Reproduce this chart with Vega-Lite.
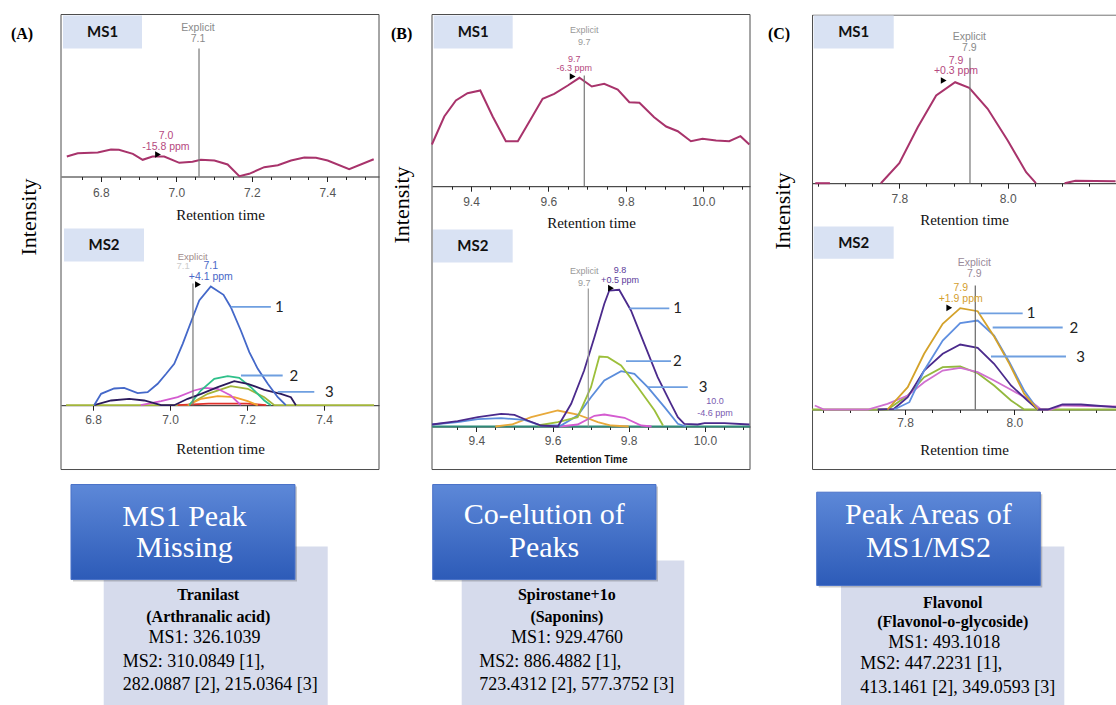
{
"$schema": "https://vega.github.io/schema/vega-lite/v6.json",
"padding": {"left": 10, "top": 13.5, "right": 0, "bottom": 0},
"background": "white",
"config": {
  "view": {"stroke": null},
  "axis": {"grid": false, "domainColor": "#222", "domainWidth": 1, "tickColor": "#222", "tickSize": 5, "labelFont": "Liberation Sans", "labelFontSize": 12, "labelColor": "#555", "titleFont": "Liberation Serif", "titleFontSize": 15, "titleFontWeight": "normal", "titleColor": "#111", "labelFlush": false}
},
"datasets": {
  "A_ms1": [{"rt":6.710,"intensity":20},{"rt":6.739,"intensity":23.3},{"rt":6.792,"intensity":24},{"rt":6.827,"intensity":27},{"rt":6.848,"intensity":26.7},{"rt":6.885,"intensity":22.7},{"rt":6.911,"intensity":16.7},{"rt":6.937,"intensity":20},{"rt":6.968,"intensity":20},{"rt":7.008,"intensity":13.7},{"rt":7.043,"intensity":14.7},{"rt":7.065,"intensity":16.7},{"rt":7.101,"intensity":16},{"rt":7.136,"intensity":12},{"rt":7.167,"intensity":0.3},{"rt":7.193,"intensity":2.7},{"rt":7.233,"intensity":9.3},{"rt":7.269,"intensity":11.3},{"rt":7.304,"intensity":16},{"rt":7.339,"intensity":19},{"rt":7.370,"intensity":18.7},{"rt":7.401,"intensity":16},{"rt":7.458,"intensity":7.3},{"rt":7.523,"intensity":17.3}],
  "A_ms2": [
    {"ion":"A4","rt":6.730,"intensity":0},{"ion":"A4","rt":7.046,"intensity":0},{"ion":"A4","rt":7.098,"intensity":11.4},{"ion":"A4","rt":7.158,"intensity":19},{"ion":"A4","rt":7.202,"intensity":16.4},{"ion":"A4","rt":7.245,"intensity":8},{"ion":"A4","rt":7.271,"intensity":0},{"ion":"A4","rt":7.530,"intensity":0},
    {"ion":"A7","rt":7.02,"intensity":0},{"ion":"A7","rt":7.10,"intensity":1.5},{"ion":"A7","rt":7.20,"intensity":1.5},{"ion":"A7","rt":7.25,"intensity":0},
    {"ion":"A6","rt":7.046,"intensity":0},{"ion":"A6","rt":7.081,"intensity":6.4},{"ion":"A6","rt":7.124,"intensity":9},{"ion":"A6","rt":7.167,"intensity":8},{"ion":"A6","rt":7.202,"intensity":4},{"ion":"A6","rt":7.228,"intensity":0},
    {"ion":"A5","rt":6.924,"intensity":0},{"ion":"A5","rt":6.977,"intensity":4},{"ion":"A5","rt":7.020,"intensity":8},{"ion":"A5","rt":7.063,"intensity":14.7},{"ion":"A5","rt":7.089,"intensity":17.4},{"ion":"A5","rt":7.124,"intensity":16.4},{"ion":"A5","rt":7.158,"intensity":9.7},{"ion":"A5","rt":7.184,"intensity":0},
    {"ion":"A2","rt":7.050,"intensity":0},{"ion":"A2","rt":7.080,"intensity":14.7},{"ion":"A2","rt":7.115,"intensity":26.4},{"ion":"A2","rt":7.150,"intensity":29},{"ion":"A2","rt":7.180,"intensity":27.4},{"ion":"A2","rt":7.210,"intensity":18},{"ion":"A2","rt":7.245,"intensity":4.7},{"ion":"A2","rt":7.262,"intensity":0},
    {"ion":"A3","rt":6.803,"intensity":0},{"ion":"A3","rt":6.847,"intensity":4.7},{"ion":"A3","rt":6.894,"intensity":6.4},{"ion":"A3","rt":6.933,"intensity":4.7},{"ion":"A3","rt":6.977,"intensity":0},{"ion":"A3","rt":7.011,"intensity":0},{"ion":"A3","rt":7.046,"intensity":6.4},{"ion":"A3","rt":7.081,"intensity":11.4},{"ion":"A3","rt":7.124,"intensity":18},{"ion":"A3","rt":7.167,"intensity":24},{"ion":"A3","rt":7.202,"intensity":21.4},{"ion":"A3","rt":7.245,"intensity":15.4},{"ion":"A3","rt":7.288,"intensity":11.4},{"ion":"A3","rt":7.314,"intensity":8},{"ion":"A3","rt":7.327,"intensity":0},
    {"ion":"A1","rt":6.803,"intensity":0},{"ion":"A1","rt":6.821,"intensity":11.4},{"ion":"A1","rt":6.855,"intensity":16.7},{"ion":"A1","rt":6.881,"intensity":17.4},{"ion":"A1","rt":6.916,"intensity":12},{"ion":"A1","rt":6.942,"intensity":13},{"ion":"A1","rt":6.968,"intensity":21.4},{"ion":"A1","rt":6.990,"intensity":31.4},{"ion":"A1","rt":7.011,"intensity":41.4},{"ion":"A1","rt":7.033,"intensity":61.4},{"ion":"A1","rt":7.056,"intensity":84.7},{"ion":"A1","rt":7.076,"intensity":104.7},{"ion":"A1","rt":7.106,"intensity":118.7},{"ion":"A1","rt":7.139,"intensity":110.4},{"ion":"A1","rt":7.158,"intensity":98},{"ion":"A1","rt":7.184,"intensity":74.7},{"ion":"A1","rt":7.206,"intensity":53},{"ion":"A1","rt":7.228,"intensity":36.4},{"ion":"A1","rt":7.254,"intensity":21.4},{"ion":"A1","rt":7.280,"intensity":8},{"ion":"A1","rt":7.301,"intensity":0}
  ],
  "B_ms1": [{"rt":9.299,"intensity":41.7},{"rt":9.331,"intensity":69.7},{"rt":9.361,"intensity":85.7},{"rt":9.391,"intensity":93},{"rt":9.424,"intensity":95.7},{"rt":9.456,"intensity":69.7},{"rt":9.490,"intensity":45},{"rt":9.521,"intensity":45},{"rt":9.555,"intensity":67.4},{"rt":9.585,"intensity":87.4},{"rt":9.615,"intensity":92.4},{"rt":9.650,"intensity":100.7},{"rt":9.680,"intensity":108.4},{"rt":9.712,"intensity":99.7},{"rt":9.744,"intensity":102.4},{"rt":9.779,"intensity":96.7},{"rt":9.809,"intensity":84},{"rt":9.835,"intensity":83.4},{"rt":9.873,"intensity":69},{"rt":9.904,"intensity":59.7},{"rt":9.934,"intensity":55},{"rt":9.968,"intensity":45},{"rt":9.998,"intensity":47.4},{"rt":10.033,"intensity":45.7},{"rt":10.067,"intensity":45},{"rt":10.096,"intensity":50},{"rt":10.119,"intensity":41.7}],
  "B_ms2": [
    {"ion":"B6","rt":9.284,"intensity":0},{"ion":"B6","rt":10.118,"intensity":0},
    {"ion":"B4","rt":9.45,"intensity":0},{"ion":"B4","rt":9.493,"intensity":2},{"ion":"B4","rt":9.544,"intensity":9.3},{"ion":"B4","rt":9.614,"intensity":16},{"ion":"B4","rt":9.666,"intensity":12},{"ion":"B4","rt":9.719,"intensity":4.3},{"ion":"B4","rt":9.754,"intensity":1},{"ion":"B4","rt":9.80,"intensity":0},
    {"ion":"B5","rt":9.62,"intensity":0},{"ion":"B5","rt":9.666,"intensity":2},{"ion":"B5","rt":9.710,"intensity":10.7},{"ion":"B5","rt":9.736,"intensity":12},{"ion":"B5","rt":9.789,"intensity":8.7},{"ion":"B5","rt":9.833,"intensity":1},{"ion":"B5","rt":9.86,"intensity":0},
    {"ion":"B3","rt":9.284,"intensity":2},{"ion":"B3","rt":9.351,"intensity":4.3},{"ion":"B3","rt":9.404,"intensity":7.3},{"ion":"B3","rt":9.465,"intensity":8.3},{"ion":"B3","rt":9.526,"intensity":6.7},{"ion":"B3","rt":9.570,"intensity":1},{"ion":"B3","rt":9.622,"intensity":1},{"ion":"B3","rt":9.666,"intensity":11},{"ion":"B3","rt":9.701,"intensity":29.3},{"ion":"B3","rt":9.736,"intensity":46},{"ion":"B3","rt":9.780,"intensity":55.3},{"ion":"B3","rt":9.815,"intensity":52.7},{"ion":"B3","rt":9.850,"intensity":39.3},{"ion":"B3","rt":9.894,"intensity":19.3},{"ion":"B3","rt":9.929,"intensity":2.7},{"ion":"B3","rt":9.95,"intensity":0},
    {"ion":"B2","rt":9.561,"intensity":1},{"ion":"B2","rt":9.614,"intensity":4.3},{"ion":"B2","rt":9.666,"intensity":9.3},{"ion":"B2","rt":9.701,"intensity":39.3},{"ion":"B2","rt":9.723,"intensity":70},{"ion":"B2","rt":9.745,"intensity":69.3},{"ion":"B2","rt":9.780,"intensity":61},{"ion":"B2","rt":9.824,"intensity":39.3},{"ion":"B2","rt":9.868,"intensity":16},{"ion":"B2","rt":9.890,"intensity":1},
    {"ion":"B1","rt":9.284,"intensity":2},{"ion":"B1","rt":9.351,"intensity":5.3},{"ion":"B1","rt":9.404,"intensity":9.3},{"ion":"B1","rt":9.465,"intensity":12.7},{"ion":"B1","rt":9.500,"intensity":11.7},{"ion":"B1","rt":9.535,"intensity":6},{"ion":"B1","rt":9.570,"intensity":1},{"ion":"B1","rt":9.614,"intensity":0},{"ion":"B1","rt":9.649,"intensity":22.7},{"ion":"B1","rt":9.683,"intensity":56},{"ion":"B1","rt":9.710,"intensity":89.3},{"ion":"B1","rt":9.736,"intensity":122.7},{"ion":"B1","rt":9.749,"intensity":136},{"ion":"B1","rt":9.775,"intensity":136.7},{"ion":"B1","rt":9.806,"intensity":116},{"ion":"B1","rt":9.841,"intensity":82.7},{"ion":"B1","rt":9.876,"intensity":49.3},{"ion":"B1","rt":9.911,"intensity":22.7},{"ion":"B1","rt":9.929,"intensity":9.3},{"ion":"B1","rt":9.946,"intensity":2.7},{"ion":"B1","rt":9.981,"intensity":2},{"ion":"B1","rt":9.999,"intensity":3.3},{"ion":"B1","rt":10.051,"intensity":3.3},{"ion":"B1","rt":10.117,"intensity":2}
  ],
  "C_ms1": [{"seg":0,"rt":7.645,"intensity":0},{"seg":0,"rt":7.672,"intensity":0},{"seg":1,"rt":7.766,"intensity":0},{"seg":1,"rt":7.800,"intensity":20},{"seg":1,"rt":7.834,"intensity":56},{"seg":1,"rt":7.868,"intensity":87.7},{"seg":1,"rt":7.903,"intensity":101},{"seg":1,"rt":7.929,"intensity":95.4},{"seg":1,"rt":7.963,"intensity":74.4},{"seg":1,"rt":8.000,"intensity":42.7},{"seg":1,"rt":8.034,"intensity":11},{"seg":1,"rt":8.052,"intensity":0},{"seg":2,"rt":8.105,"intensity":0},{"seg":2,"rt":8.125,"intensity":2.5},{"seg":2,"rt":8.199,"intensity":2}],
  "C_ms2": [
    {"ion":"C4","rt":7.630,"intensity":0},{"ion":"C4","rt":7.768,"intensity":0},{"ion":"C4","rt":7.805,"intensity":14},{"ion":"C4","rt":7.835,"intensity":32.3},{"ion":"C4","rt":7.869,"intensity":42.3},{"ion":"C4","rt":7.901,"intensity":43},{"ion":"C4","rt":7.933,"intensity":36.3},{"ion":"C4","rt":7.963,"intensity":24},{"ion":"C4","rt":7.994,"intensity":9},{"ion":"C4","rt":8.018,"intensity":0},{"ion":"C4","rt":8.186,"intensity":0},
    {"ion":"C5","rt":7.635,"intensity":4},{"ion":"C5","rt":7.652,"intensity":0},{"ion":"C5","rt":7.732,"intensity":0},{"ion":"C5","rt":7.768,"intensity":5.7},{"ion":"C5","rt":7.805,"intensity":14},{"ion":"C5","rt":7.835,"intensity":27.3},{"ion":"C5","rt":7.869,"intensity":39},{"ion":"C5","rt":7.901,"intensity":41.7},{"ion":"C5","rt":7.933,"intensity":37.3},{"ion":"C5","rt":7.963,"intensity":29},{"ion":"C5","rt":7.994,"intensity":19.7},{"ion":"C5","rt":8.024,"intensity":10.7},{"ion":"C5","rt":8.049,"intensity":0},{"ion":"C5","rt":8.067,"intensity":0},{"ion":"C5","rt":8.088,"intensity":4},{"ion":"C5","rt":8.186,"intensity":3},
    {"ion":"C3","rt":7.750,"intensity":0},{"ion":"C3","rt":7.780,"intensity":0.7},{"ion":"C3","rt":7.805,"intensity":12.3},{"ion":"C3","rt":7.835,"intensity":39},{"ion":"C3","rt":7.869,"intensity":55.7},{"ion":"C3","rt":7.901,"intensity":65},{"ion":"C3","rt":7.933,"intensity":61.7},{"ion":"C3","rt":7.963,"intensity":45.7},{"ion":"C3","rt":7.994,"intensity":24},{"ion":"C3","rt":8.024,"intensity":9},{"ion":"C3","rt":8.043,"intensity":0},{"ion":"C3","rt":8.061,"intensity":0},{"ion":"C3","rt":8.088,"intensity":5},{"ion":"C3","rt":8.122,"intensity":5},{"ion":"C3","rt":8.146,"intensity":4},{"ion":"C3","rt":8.186,"intensity":2.3},
    {"ion":"C2","rt":7.780,"intensity":0},{"ion":"C2","rt":7.808,"intensity":7.3},{"ion":"C2","rt":7.835,"intensity":39},{"ion":"C2","rt":7.869,"intensity":69},{"ion":"C2","rt":7.901,"intensity":86.3},{"ion":"C2","rt":7.933,"intensity":89},{"ion":"C2","rt":7.963,"intensity":74},{"ion":"C2","rt":7.991,"intensity":47.3},{"ion":"C2","rt":8.018,"intensity":19},{"ion":"C2","rt":8.043,"intensity":0},
    {"ion":"C1","rt":7.768,"intensity":0},{"ion":"C1","rt":7.805,"intensity":22.3},{"ion":"C1","rt":7.835,"intensity":55.7},{"ion":"C1","rt":7.869,"intensity":85.7},{"ion":"C1","rt":7.901,"intensity":101.3},{"ion":"C1","rt":7.933,"intensity":98.3},{"ion":"C1","rt":7.963,"intensity":73},{"ion":"C1","rt":7.991,"intensity":45.7},{"ion":"C1","rt":8.018,"intensity":15.7},{"ion":"C1","rt":8.043,"intensity":0}
  ]
},
"bounds": "flush",
"spacing": 26,
"hconcat": [
{
  "width": 318, "height": 691,
  "resolve": {"scale": {"x": "independent", "y": "independent"}, "axis": {"x": "independent", "y": "independent"}},
  "layer": [
  {
    "data": {"values": [{}]},
    "layer": [
      {"mark": {"type": "rect", "filled": false, "stroke": "#4d4d4d", "strokeWidth": 1}, "encoding": {"x": {"datum": 0, "type": "quantitative", "scale": {"domain": [0, 100], "nice": false, "zero": false}, "axis": null}, "x2": {"datum": 100}, "y": {"datum": 0, "type": "quantitative", "scale": {"domain": [0, 100], "nice": false, "zero": false, "reverse": true}, "axis": null}, "y2": {"datum": 65.85}}},
      {"mark": {"type": "rect", "fill": "#d6dbec"}, "encoding": {"x": {"datum": 13.43, "type": "quantitative", "axis": null}, "x2": {"datum": 83.87}, "y": {"datum": 76.99, "type": "quantitative", "axis": null}, "y2": {"datum": 100}}},
      {"mark": {"type": "rect", "fill": "#000", "opacity": 0.2}, "encoding": {"x": {"datum": 3.77, "type": "quantitative", "axis": null}, "x2": {"datum": 74.21}, "y": {"datum": 68.31, "type": "quantitative", "axis": null}, "y2": {"datum": 82.05}}},
      {"mark": {"type": "rect", "stroke": "#4a72c8", "strokeWidth": 1, "fill": {"x1": 0, "y1": 0, "x2": 0, "y2": 1, "gradient": "linear", "stops": [{"offset": 0, "color": "#5d88d8"}, {"offset": 1, "color": "#2d5bb8"}]}}, "encoding": {"x": {"datum": 3.14, "type": "quantitative", "axis": null}, "x2": {"datum": 73.58}, "y": {"datum": 68.02, "type": "quantitative", "axis": null}, "y2": {"datum": 81.77}}},
      {"mark": {"type": "text", "text": "MS1 Peak\nMissing", "lineBreak": "\n", "lineHeight": 31, "font": "Liberation Serif", "fontSize": 30, "color": "#ffffff"}, "encoding": {"x": {"datum": 38.8, "type": "quantitative", "axis": null}, "y": {"datum": 72.65, "type": "quantitative", "axis": null}}},
      {"mark": {"type": "text", "text": "Tranilast\n(Arthranalic acid)", "lineBreak": "\n", "lineHeight": 22.4, "font": "Liberation Serif", "fontWeight": "bold", "fontSize": 16, "color": "#000"}, "encoding": {"x": {"datum": 46.3, "type": "quantitative", "axis": null}, "y": {"datum": 83.98, "type": "quantitative", "axis": null}}},
      {"mark": {"type": "text", "text": "MS1: 326.1039", "font": "Liberation Serif", "fontSize": 18, "color": "#000"}, "encoding": {"x": {"datum": 45.1, "type": "quantitative", "axis": null}, "y": {"datum": 90.26, "type": "quantitative", "axis": null}}},
      {"mark": {"type": "text", "text": "MS2: 310.0849 [1],\n282.0887 [2], 215.0364 [3]", "lineBreak": "\n", "lineHeight": 23.3, "align": "left", "font": "Liberation Serif", "fontSize": 18, "color": "#000"}, "encoding": {"x": {"datum": 19.4, "type": "quantitative", "axis": null}, "y": {"datum": 93.73, "type": "quantitative", "axis": null}}}
    ]
  },
  {
    "data": {"values": [{}]},
    "resolve": {"axis": {"x": "independent", "y": "independent"}},
    "layer": [
      {"data": {"name": "A_ms1"}, "mark": {"type": "line", "color": "#a8336b", "strokeWidth": 2},
       "encoding": {
         "x": {"field": "rt", "type": "quantitative", "scale": {"domain": [6.6946, 7.537], "nice": false, "zero": false},
               "axis": {"orient": "bottom", "offset": -529, "values": [6.8,7,7.2,7.4], "format": ".1f", "labelPadding": 6, "title": "Retention time", "titlePadding": 9}},
         "y": {"field": "intensity", "type": "quantitative", "scale": {"domain": [-529, 162], "nice": false, "zero": false},
               "axis": {"title": "Intensity", "labels": false, "ticks": false, "domain": false, "titleFontSize": 22, "titleX": -21, "titleY": 202, "titleAngle": 270, "titleBaseline": "bottom", "titleAlign": "center", "titleColor": "#000"}}
       }},
      {"mark": {"type": "rule", "color": "#777", "strokeWidth": 1.2}, "encoding": {"x": {"datum": 7.0602, "type": "quantitative", "axis": {"orient": "bottom", "offset": -529, "values": [6.75,6.85,6.9,6.95,7.05,7.1,7.15,7.25,7.3,7.35,7.45,7.5], "labels": false, "title": null, "domain": false, "tickSize": 3}}, "y": {"datum": 0, "type": "quantitative", "axis": null}, "y2": {"datum": 128}}},
      {"mark": {"type": "rect", "fill": "#d9e2f3"}, "encoding": {"x": {"datum": 6.6999, "type": "quantitative", "axis": null}, "x2": {"datum": 6.9092}, "y": {"datum": 128, "type": "quantitative", "axis": null}, "y2": {"datum": 161}}},
      {"mark": {"type": "text", "text": "MS1", "font": "Lato", "fontWeight": "bold", "fontSize": 15, "color": "#111"}, "encoding": {"x": {"datum": 6.8046, "type": "quantitative", "axis": null}, "y": {"datum": 144.5, "type": "quantitative", "axis": null}}},
      {"mark": {"type": "text", "text": "Explicit\n7.1", "lineBreak": "\n", "lineHeight": 11, "font": "Liberation Sans", "fontSize": 10.5, "color": "#8a8a8a"}, "encoding": {"x": {"datum": 7.0575, "type": "quantitative", "axis": null}, "y": {"datum": 149, "type": "quantitative", "axis": null}}},
      {"mark": {"type": "text", "text": "7.0\n-15.8 ppm", "lineBreak": "\n", "lineHeight": 11, "font": "Liberation Sans", "fontSize": 10.5, "color": "#b5487e"}, "encoding": {"x": {"datum": 6.9727, "type": "quantitative", "axis": null}, "y": {"datum": 41, "type": "quantitative", "axis": null}}},
      {"mark": {"type": "point", "shape": "triangle-right", "size": 45, "filled": true, "color": "#000", "opacity": 1}, "encoding": {"x": {"datum": 6.9516, "type": "quantitative", "axis": null}, "y": {"datum": 22, "type": "quantitative", "axis": null}}},
      {"mark": {"type": "text", "text": "(A)", "font": "Liberation Serif", "fontWeight": "bold", "fontSize": 16, "align": "left", "color": "#000"}, "encoding": {"x": {"datum": 6.5621, "type": "quantitative", "axis": null}, "y": {"datum": 143, "type": "quantitative", "axis": null}}}
    ]
  },
  {
    "data": {"values": [{}]},
    "layer": [
      {"data": {"name": "A_ms2"}, "mark": {"type": "line", "strokeWidth": 1.8},
       "encoding": {
         "x": {"field": "rt", "type": "quantitative", "scale": {"domain": [6.7169, 7.5429], "nice": false, "zero": false},
               "axis": {"orient": "bottom", "offset": -300.3, "values": [6.8,7,7.2,7.4], "format": ".1f", "labelPadding": 4, "title": "Retention time", "titlePadding": 16}},
         "y": {"field": "intensity", "type": "quantitative", "scale": {"domain": [-300.3, 390.7], "nice": false, "zero": false}, "axis": null},
         "color": {"field": "ion", "type": "nominal", "legend": null, "scale": {"domain": ["A4","A7","A6","A5","A2","A3","A1","B6","B4","B5","B3","B2","B1","C4","C5","C3","C2","C1"], "range": ["#a2b53a","#e0322c","#f0a32e","#d45bd0","#2fc08a","#2b1a5c","#4468c9","#2e8a78","#e8a93a","#d45bd0","#5b8ddb","#9cbf3a","#4b2a8c","#93b83e","#d070d0","#4b2a8c","#5f8fe0","#d4a22a"]}}
       }},
      {"mark": {"type": "rule", "color": "#777", "strokeWidth": 1.2}, "encoding": {"x": {"datum": 7.0597, "type": "quantitative"}, "y": {"datum": 0, "type": "quantitative"}, "y2": {"datum": 121.7}}},
      {"mark": {"type": "text", "text": "Explicit", "font": "Liberation Sans", "fontSize": 9.5, "color": "#a08a8a"}, "encoding": {"x": {"datum": 7.059, "type": "quantitative"}, "y": {"datum": 148.5, "type": "quantitative"}}},
      {"mark": {"type": "text", "text": "7.1", "font": "Liberation Sans", "fontSize": 9.5, "color": "#cccccc"}, "encoding": {"x": {"datum": 7.034, "type": "quantitative"}, "y": {"datum": 139.2, "type": "quantitative"}}},
      {"mark": {"type": "text", "text": "7.1\n+4.1 ppm", "lineBreak": "\n", "lineHeight": 11, "font": "Liberation Sans", "fontSize": 10.5, "color": "#4a68c8"}, "encoding": {"x": {"datum": 7.106, "type": "quantitative"}, "y": {"datum": 139.2, "type": "quantitative"}}},
      {"mark": {"type": "point", "shape": "triangle-right", "size": 45, "filled": true, "color": "#000", "opacity": 1}, "encoding": {"x": {"datum": 7.0727, "type": "quantitative"}, "y": {"datum": 120.7, "type": "quantitative"}}},
      {"mark": {"type": "rule", "color": "#6f9fe0", "strokeWidth": 1.8}, "encoding": {"x": {"datum": 7.158, "type": "quantitative"}, "x2": {"datum": 7.262}, "y": {"datum": 98.4, "type": "quantitative"}}},
      {"mark": {"type": "rule", "color": "#6f9fe0", "strokeWidth": 1.8}, "encoding": {"x": {"datum": 7.1844, "type": "quantitative"}, "x2": {"datum": 7.2927}, "y": {"datum": 29.7, "type": "quantitative"}}},
      {"mark": {"type": "rule", "color": "#6f9fe0", "strokeWidth": 1.8}, "encoding": {"x": {"datum": 7.2797, "type": "quantitative"}, "x2": {"datum": 7.3748}, "y": {"datum": 13.4, "type": "quantitative"}}},
      {"mark": {"type": "text", "text": "1", "font": "Lato", "fontSize": 15, "color": "#222"}, "encoding": {"x": {"datum": 7.284, "type": "quantitative"}, "y": {"datum": 98.4, "type": "quantitative"}}},
      {"mark": {"type": "text", "text": "2", "font": "Lato", "fontSize": 15, "color": "#222"}, "encoding": {"x": {"datum": 7.322, "type": "quantitative"}, "y": {"datum": 29.7, "type": "quantitative"}}},
      {"mark": {"type": "text", "text": "3", "font": "Lato", "fontSize": 15, "color": "#222"}, "encoding": {"x": {"datum": 7.4138, "type": "quantitative"}, "y": {"datum": 13.4, "type": "quantitative"}}},
      {"mark": {"type": "rect", "fill": "#d9e2f3"}, "encoding": {"x": {"datum": 6.7247, "type": "quantitative"}, "x2": {"datum": 6.9325}, "y": {"datum": 143.7, "type": "quantitative"}, "y2": {"datum": 176.7}}},
      {"mark": {"type": "text", "text": "MS2", "font": "Lato", "fontWeight": "bold", "fontSize": 15, "color": "#111"}, "encoding": {"x": {"datum": 6.8286, "type": "quantitative"}, "y": {"datum": 160.2, "type": "quantitative"}}}
    ]
  }
  ]
},
{"width": 1, "height": 20, "data": {"values": [{}]}, "mark": {"type": "point", "opacity": 0, "size": 1}},
{
  "width": 318, "height": 691,
  "resolve": {"scale": {"x": "independent", "y": "independent"}, "axis": {"x": "independent", "y": "independent"}},
  "layer": [
  {
    "data": {"values": [{}]},
    "layer": [
      {"mark": {"type": "rect", "filled": false, "stroke": "#4d4d4d", "strokeWidth": 1}, "encoding": {"x": {"datum": 0, "type": "quantitative", "scale": {"domain": [0, 100], "nice": false, "zero": false}, "axis": null}, "x2": {"datum": 100}, "y": {"datum": 0, "type": "quantitative", "scale": {"domain": [0, 100], "nice": false, "zero": false, "reverse": true}, "axis": null}, "y2": {"datum": 65.85}}},
      {"mark": {"type": "rect", "fill": "#d6dbec"}, "encoding": {"x": {"datum": 9.34, "type": "quantitative", "axis": null}, "x2": {"datum": 79.34}, "y": {"datum": 79.02, "type": "quantitative", "axis": null}, "y2": {"datum": 100}}},
      {"mark": {"type": "rect", "fill": "#000", "opacity": 0.2}, "encoding": {"x": {"datum": 0.85, "type": "quantitative", "axis": null}, "x2": {"datum": 71.07}, "y": {"datum": 68.31, "type": "quantitative", "axis": null}, "y2": {"datum": 82.05}}},
      {"mark": {"type": "rect", "stroke": "#4a72c8", "strokeWidth": 1, "fill": {"x1": 0, "y1": 0, "x2": 0, "y2": 1, "gradient": "linear", "stops": [{"offset": 0, "color": "#5d88d8"}, {"offset": 1, "color": "#2d5bb8"}]}}, "encoding": {"x": {"datum": 0.22, "type": "quantitative", "axis": null}, "x2": {"datum": 70.44}, "y": {"datum": 68.02, "type": "quantitative", "axis": null}, "y2": {"datum": 81.77}}},
      {"mark": {"type": "text", "text": "Co-elution of\nPeaks", "lineBreak": "\n", "lineHeight": 33, "font": "Liberation Serif", "fontSize": 30, "color": "#ffffff"}, "encoding": {"x": {"datum": 35.3, "type": "quantitative", "axis": null}, "y": {"datum": 72.5, "type": "quantitative", "axis": null}}},
      {"mark": {"type": "text", "text": "Spirostane+1o\n(Saponins)", "lineBreak": "\n", "lineHeight": 21.7, "font": "Liberation Serif", "fontWeight": "bold", "fontSize": 16, "color": "#000"}, "encoding": {"x": {"datum": 42.4, "type": "quantitative", "axis": null}, "y": {"datum": 84.08, "type": "quantitative", "axis": null}}},
      {"mark": {"type": "text", "text": "MS1: 929.4760", "font": "Liberation Serif", "fontSize": 18, "color": "#000"}, "encoding": {"x": {"datum": 42.45, "type": "quantitative", "axis": null}, "y": {"datum": 90.2, "type": "quantitative", "axis": null}}},
      {"mark": {"type": "text", "text": "MS2: 886.4882 [1],\n723.4312 [2], 577.3752 [3]", "lineBreak": "\n", "lineHeight": 23.3, "align": "left", "font": "Liberation Serif", "fontSize": 18, "color": "#000"}, "encoding": {"x": {"datum": 14.87, "type": "quantitative", "axis": null}, "y": {"datum": 93.73, "type": "quantitative", "axis": null}}}
    ]
  },
  {
    "data": {"values": [{}]},
    "resolve": {"axis": {"x": "independent", "y": "independent"}},
    "layer": [
      {"data": {"name": "B_ms1"}, "mark": {"type": "line", "color": "#a8336b", "strokeWidth": 2},
       "encoding": {
         "x": {"field": "rt", "type": "quantitative", "scale": {"domain": [9.2993, 10.1206], "nice": false, "zero": false},
               "axis": {"orient": "bottom", "offset": -519.3, "values": [9.4,9.6,9.8,10], "format": ".1f", "labelPadding": 5.5, "title": "Retention time", "titlePadding": 7.5}},
         "y": {"field": "intensity", "type": "quantitative", "scale": {"domain": [-519.3, 171.7], "nice": false, "zero": false},
               "axis": {"title": "Intensity", "labels": false, "ticks": false, "domain": false, "titleFontSize": 22, "titleX": -19, "titleY": 190, "titleAngle": 270, "titleBaseline": "bottom", "titleAlign": "center", "titleColor": "#000"}}
       }},
      {"mark": {"type": "rule", "color": "#777", "strokeWidth": 1.2}, "encoding": {"x": {"datum": 9.6926, "type": "quantitative", "axis": {"orient": "bottom", "offset": -519.3, "values": [9.35,9.45,9.5,9.55,9.65,9.7,9.75,9.85,9.9,9.95,10.05,10.1], "labels": false, "title": null, "domain": false, "tickSize": 3}}, "y": {"datum": 0, "type": "quantitative", "axis": null}, "y2": {"datum": 110.7}}},
      {"mark": {"type": "rect", "fill": "#d9e2f3"}, "encoding": {"x": {"datum": 9.3037, "type": "quantitative", "axis": null}, "x2": {"datum": 9.5077}, "y": {"datum": 137.7, "type": "quantitative", "axis": null}, "y2": {"datum": 170.7}}},
      {"mark": {"type": "text", "text": "MS1", "font": "Lato", "fontWeight": "bold", "fontSize": 15, "color": "#111"}, "encoding": {"x": {"datum": 9.4057, "type": "quantitative", "axis": null}, "y": {"datum": 154.2, "type": "quantitative", "axis": null}}},
      {"mark": {"type": "text", "text": "Explicit\n9.7", "lineBreak": "\n", "lineHeight": 12.4, "font": "Liberation Sans", "fontSize": 9, "color": "#999"}, "encoding": {"x": {"datum": 9.6926, "type": "quantitative", "axis": null}, "y": {"datum": 156.4, "type": "quantitative", "axis": null}}},
      {"mark": {"type": "text", "text": "9.7\n-6.3 ppm", "lineBreak": "\n", "lineHeight": 9.5, "font": "Liberation Sans", "fontSize": 9, "color": "#b5487e"}, "encoding": {"x": {"datum": 9.6668, "type": "quantitative", "axis": null}, "y": {"datum": 127.4, "type": "quantitative", "axis": null}}},
      {"mark": {"type": "point", "shape": "triangle-right", "size": 45, "filled": true, "color": "#000", "opacity": 1}, "encoding": {"x": {"datum": 9.6626, "type": "quantitative", "axis": null}, "y": {"datum": 109.7, "type": "quantitative", "axis": null}}},
      {"mark": {"type": "text", "text": "(B)", "font": "Liberation Serif", "fontWeight": "bold", "fontSize": 16, "align": "left", "color": "#000"}, "encoding": {"x": {"datum": 9.1934, "type": "quantitative", "axis": null}, "y": {"datum": 152.7, "type": "quantitative", "axis": null}}}
    ]
  },
  {
    "data": {"values": [{}]},
    "resolve": {"axis": {"x": "independent", "y": "independent"}},
    "layer": [
      {"data": {"name": "B_ms2"}, "mark": {"type": "line", "strokeWidth": 1.8},
       "encoding": {
         "x": {"field": "rt", "type": "quantitative", "scale": {"domain": [9.2837, 10.1184], "nice": false, "zero": false},
               "axis": {"orient": "bottom", "offset": -279, "values": [9.4,9.6,9.8,10], "format": ".1f", "labelPadding": 4, "title": "Retention Time", "titleFont": "Liberation Sans", "titleFontWeight": "bold", "titleFontSize": 10, "titlePadding": 7.5}},
         "y": {"field": "intensity", "type": "quantitative", "scale": {"domain": [-279, 412], "nice": false, "zero": false}, "axis": null},
         "color": {"field": "ion", "type": "nominal", "legend": null, "scale": {"domain": ["A4","A7","A6","A5","A2","A3","A1","B6","B4","B5","B3","B2","B1","C4","C5","C3","C2","C1"], "range": ["#a2b53a","#e0322c","#f0a32e","#d45bd0","#2fc08a","#2b1a5c","#4468c9","#2e8a78","#e8a93a","#d45bd0","#5b8ddb","#9cbf3a","#4b2a8c","#93b83e","#d070d0","#4b2a8c","#5f8fe0","#d4a22a"]}}
       }},
      {"mark": {"type": "rule", "color": "#999", "strokeWidth": 1.2}, "encoding": {"x": {"datum": 9.694, "type": "quantitative", "axis": {"orient": "bottom", "offset": -279, "values": [9.35,9.45,9.5,9.55,9.65,9.7,9.75,9.85,9.9,9.95,10.05,10.1], "labels": false, "title": null, "domain": false, "tickSize": 3}}, "y": {"datum": 0, "type": "quantitative", "axis": null}, "y2": {"datum": 138}}},
      {"mark": {"type": "text", "text": "Explicit\n9.7", "lineBreak": "\n", "lineHeight": 11.6, "font": "Liberation Sans", "fontSize": 9, "color": "#999"}, "encoding": {"x": {"datum": 9.6835, "type": "quantitative", "axis": null}, "y": {"datum": 155.3, "type": "quantitative", "axis": null}}},
      {"mark": {"type": "text", "text": "9.8\n+0.5 ppm", "lineBreak": "\n", "lineHeight": 10.3, "font": "Liberation Sans", "fontSize": 9, "color": "#5a3a9a"}, "encoding": {"x": {"datum": 9.7772, "type": "quantitative", "axis": null}, "y": {"datum": 157, "type": "quantitative", "axis": null}}},
      {"mark": {"type": "text", "text": "10.0\n-4.6 ppm", "lineBreak": "\n", "lineHeight": 12, "font": "Liberation Sans", "fontSize": 9, "color": "#7a5ab0"}, "encoding": {"x": {"datum": 10.0265, "type": "quantitative", "axis": null}, "y": {"datum": 25.3, "type": "quantitative", "axis": null}}},
      {"mark": {"type": "point", "shape": "triangle-right", "size": 45, "filled": true, "color": "#000", "opacity": 1}, "encoding": {"x": {"datum": 9.7535, "type": "quantitative", "axis": null}, "y": {"datum": 138.3, "type": "quantitative", "axis": null}}},
      {"mark": {"type": "rule", "color": "#6f9fe0", "strokeWidth": 1.8}, "encoding": {"x": {"datum": 9.8016, "type": "quantitative", "axis": null}, "x2": {"datum": 9.9066}, "y": {"datum": 118.2, "type": "quantitative", "axis": null}}},
      {"mark": {"type": "rule", "color": "#6f9fe0", "strokeWidth": 1.8}, "encoding": {"x": {"datum": 9.793, "type": "quantitative", "axis": null}, "x2": {"datum": 9.911}, "y": {"datum": 65.3, "type": "quantitative", "axis": null}}},
      {"mark": {"type": "rule", "color": "#6f9fe0", "strokeWidth": 1.8}, "encoding": {"x": {"datum": 9.850, "type": "quantitative", "axis": null}, "x2": {"datum": 9.955}, "y": {"datum": 39.3, "type": "quantitative", "axis": null}}},
      {"mark": {"type": "text", "text": "1", "font": "Lato", "fontSize": 15, "color": "#222"}, "encoding": {"x": {"datum": 9.9286, "type": "quantitative", "axis": null}, "y": {"datum": 118.2, "type": "quantitative", "axis": null}}},
      {"mark": {"type": "text", "text": "2", "font": "Lato", "fontSize": 15, "color": "#222"}, "encoding": {"x": {"datum": 9.9274, "type": "quantitative", "axis": null}, "y": {"datum": 65.3, "type": "quantitative", "axis": null}}},
      {"mark": {"type": "text", "text": "3", "font": "Lato", "fontSize": 15, "color": "#222"}, "encoding": {"x": {"datum": 9.995, "type": "quantitative", "axis": null}, "y": {"datum": 39.3, "type": "quantitative", "axis": null}}},
      {"mark": {"type": "rect", "fill": "#d9e2f3"}, "encoding": {"x": {"datum": 9.2863, "type": "quantitative", "axis": null}, "x2": {"datum": 9.4955}, "y": {"datum": 164, "type": "quantitative", "axis": null}, "y2": {"datum": 197}}},
      {"mark": {"type": "text", "text": "MS2", "font": "Lato", "fontWeight": "bold", "fontSize": 15, "color": "#111"}, "encoding": {"x": {"datum": 9.3909, "type": "quantitative", "axis": null}, "y": {"datum": 180.5, "type": "quantitative", "axis": null}}}
    ]
  }
  ]
},
{"width": 10, "height": 20, "data": {"values": [{}]}, "mark": {"type": "point", "opacity": 0, "size": 1}},
{
  "width": 304, "height": 691,
  "resolve": {"scale": {"x": "independent", "y": "independent"}, "axis": {"x": "independent", "y": "independent"}},
  "layer": [
  {
    "data": {"values": [{}]},
    "layer": [
      {"mark": {"type": "rect", "filled": false, "stroke": "#4d4d4d", "strokeWidth": 1, "clip": true}, "encoding": {"x": {"datum": 0.17, "type": "quantitative", "scale": {"domain": [0, 100], "nice": false, "zero": false}, "axis": null}, "x2": {"datum": 110}, "y": {"datum": 0.08, "type": "quantitative", "scale": {"domain": [0, 100], "nice": false, "zero": false, "reverse": true}, "axis": null}, "y2": {"datum": 65.85}}},
      {"mark": {"type": "rect", "fill": "#d6dbec"}, "encoding": {"x": {"datum": 9.54, "type": "quantitative", "axis": null}, "x2": {"datum": 83.0}, "y": {"datum": 76.99, "type": "quantitative", "axis": null}, "y2": {"datum": 100}}},
      {"mark": {"type": "rect", "fill": "#000", "opacity": 0.2}, "encoding": {"x": {"datum": 2.2, "type": "quantitative", "axis": null}, "x2": {"datum": 75.76}, "y": {"datum": 69.42, "type": "quantitative", "axis": null}, "y2": {"datum": 82.92}}},
      {"mark": {"type": "rect", "stroke": "#4a72c8", "strokeWidth": 1, "fill": {"x1": 0, "y1": 0, "x2": 0, "y2": 1, "gradient": "linear", "stops": [{"offset": 0, "color": "#5d88d8"}, {"offset": 1, "color": "#2d5bb8"}]}}, "encoding": {"x": {"datum": 1.55, "type": "quantitative", "axis": null}, "x2": {"datum": 75.1}, "y": {"datum": 69.13, "type": "quantitative", "axis": null}, "y2": {"datum": 82.63}}},
      {"mark": {"type": "text", "text": "Peak Areas of\nMS1/MS2", "lineBreak": "\n", "lineHeight": 33, "font": "Liberation Serif", "fontSize": 30, "color": "#ffffff"}, "encoding": {"x": {"datum": 38.3, "type": "quantitative", "axis": null}, "y": {"datum": 72.5, "type": "quantitative", "axis": null}}},
      {"mark": {"type": "text", "text": "Flavonol\n(Flavonol-o-glycoside)", "lineBreak": "\n", "lineHeight": 19, "font": "Liberation Serif", "fontWeight": "bold", "fontSize": 16, "color": "#000"}, "encoding": {"x": {"datum": 46.28, "type": "quantitative", "axis": null}, "y": {"datum": 85.19, "type": "quantitative", "axis": null}}},
      {"mark": {"type": "text", "text": "MS1: 493.1018", "font": "Liberation Serif", "fontSize": 18, "color": "#000"}, "encoding": {"x": {"datum": 43.5, "type": "quantitative", "axis": null}, "y": {"datum": 90.98, "type": "quantitative", "axis": null}}},
      {"mark": {"type": "text", "text": "MS2: 447.2231 [1],\n413.1461 [2], 349.0593 [3]", "lineBreak": "\n", "lineHeight": 24, "align": "left", "font": "Liberation Serif", "fontSize": 18, "color": "#000"}, "encoding": {"x": {"datum": 15.9, "type": "quantitative", "axis": null}, "y": {"datum": 93.97, "type": "quantitative", "axis": null}}}
    ]
  },
  {
    "data": {"values": [{}]},
    "resolve": {"axis": {"x": "independent", "y": "independent"}},
    "layer": [
      {"data": {"name": "C_ms1"}, "mark": {"type": "line", "color": "#a8336b", "strokeWidth": 2},
       "encoding": {
         "x": {"field": "rt", "type": "quantitative", "scale": {"domain": [7.6389, 8.1998], "nice": false, "zero": false},
               "axis": {"orient": "bottom", "offset": -522.3, "values": [7.8,8], "format": ".1f", "labelPadding": 5, "title": "Retention time", "titlePadding": 8.5}},
         "y": {"field": "intensity", "type": "quantitative", "scale": {"domain": [-522.3, 168.7], "nice": false, "zero": false},
               "axis": {"title": "Intensity", "labels": false, "ticks": false, "domain": false, "titleFontSize": 22, "titleX": -18, "titleY": 196, "titleAngle": 270, "titleBaseline": "bottom", "titleAlign": "center", "titleColor": "#000"}},
         "detail": {"field": "seg", "type": "nominal"}
       }},
      {"mark": {"type": "rule", "color": "#777", "strokeWidth": 1.2}, "encoding": {"x": {"datum": 7.9304, "type": "quantitative", "axis": {"orient": "bottom", "offset": -522.3, "values": [7.65,7.7,7.75,7.85,7.9,7.95,8.05,8.1,8.15], "labels": false, "title": null, "domain": false, "tickSize": 3}}, "y": {"datum": 0, "type": "quantitative", "axis": null}, "y2": {"datum": 125.4}}},
      {"mark": {"type": "rect", "fill": "#d9e2f3"}, "encoding": {"x": {"datum": 7.6420, "type": "quantitative", "axis": null}, "x2": {"datum": 7.7897}, "y": {"datum": 134.7, "type": "quantitative", "axis": null}, "y2": {"datum": 167.7}}},
      {"mark": {"type": "text", "text": "MS1", "font": "Lato", "fontWeight": "bold", "fontSize": 15, "color": "#111"}, "encoding": {"x": {"datum": 7.7159, "type": "quantitative", "axis": null}, "y": {"datum": 151.2, "type": "quantitative", "axis": null}}},
      {"mark": {"type": "text", "text": "Explicit\n7.9", "lineBreak": "\n", "lineHeight": 11, "font": "Liberation Sans", "fontSize": 10.5, "color": "#8a8a8a"}, "encoding": {"x": {"datum": 7.9292, "type": "quantitative", "axis": null}, "y": {"datum": 146, "type": "quantitative", "axis": null}}},
      {"mark": {"type": "text", "text": "7.9\n+0.3 ppm", "lineBreak": "\n", "lineHeight": 10.7, "font": "Liberation Sans", "fontSize": 10.5, "color": "#b5487e"}, "encoding": {"x": {"datum": 7.9046, "type": "quantitative", "axis": null}, "y": {"datum": 122.7, "type": "quantitative", "axis": null}}},
      {"mark": {"type": "point", "shape": "triangle-right", "size": 45, "filled": true, "color": "#000", "opacity": 1}, "encoding": {"x": {"datum": 7.8819, "type": "quantitative", "axis": null}, "y": {"datum": 102.7, "type": "quantitative", "axis": null}}},
      {"mark": {"type": "text", "text": "(C)", "font": "Liberation Serif", "fontWeight": "bold", "fontSize": 16, "align": "left", "color": "#000"}, "encoding": {"x": {"datum": 7.5577, "type": "quantitative", "axis": null}, "y": {"datum": 149.7, "type": "quantitative", "axis": null}}}
    ]
  },
  {
    "data": {"values": [{}]},
    "resolve": {"axis": {"x": "independent", "y": "independent"}},
    "layer": [
      {"data": {"name": "C_ms2"}, "mark": {"type": "line", "strokeWidth": 1.8},
       "encoding": {
         "x": {"field": "rt", "type": "quantitative", "scale": {"domain": [7.6299, 8.1860], "nice": false, "zero": false},
               "axis": {"orient": "bottom", "offset": -296, "values": [7.8,8], "format": ".1f", "labelPadding": 3, "title": "Retention time", "titlePadding": 14}},
         "y": {"field": "intensity", "type": "quantitative", "scale": {"domain": [-296, 395], "nice": false, "zero": false}, "axis": null},
         "color": {"field": "ion", "type": "nominal", "legend": null, "scale": {"domain": ["A4","A7","A6","A5","A2","A3","A1","B6","B4","B5","B3","B2","B1","C4","C5","C3","C2","C1"], "range": ["#a2b53a","#e0322c","#f0a32e","#d45bd0","#2fc08a","#2b1a5c","#4468c9","#2e8a78","#e8a93a","#d45bd0","#5b8ddb","#9cbf3a","#4b2a8c","#93b83e","#d070d0","#4b2a8c","#5f8fe0","#d4a22a"]}}
       }},
      {"mark": {"type": "rule", "color": "#666", "strokeWidth": 1.2}, "encoding": {"x": {"datum": 7.9286, "type": "quantitative", "axis": {"orient": "bottom", "offset": -296, "values": [7.65,7.7,7.75,7.85,7.9,7.95,8.05,8.1,8.15], "labels": false, "title": null, "domain": false, "tickSize": 3}}, "y": {"datum": 0, "type": "quantitative", "axis": null}, "y2": {"datum": 124}}},
      {"mark": {"type": "text", "text": "Explicit\n7.9", "lineBreak": "\n", "lineHeight": 10.6, "font": "Liberation Sans", "fontSize": 10.5, "color": "#9a8a9a"}, "encoding": {"x": {"datum": 7.9268, "type": "quantitative", "axis": null}, "y": {"datum": 146.3, "type": "quantitative", "axis": null}}},
      {"mark": {"type": "text", "text": "7.9\n+1.9 ppm", "lineBreak": "\n", "lineHeight": 11, "font": "Liberation Sans", "fontSize": 10.5, "color": "#d4a030"}, "encoding": {"x": {"datum": 7.9019, "type": "quantitative", "axis": null}, "y": {"datum": 121.7, "type": "quantitative", "axis": null}}},
      {"mark": {"type": "point", "shape": "triangle-right", "size": 45, "filled": true, "color": "#000", "opacity": 1}, "encoding": {"x": {"datum": 7.881, "type": "quantitative", "axis": null}, "y": {"datum": 101.7, "type": "quantitative", "axis": null}}},
      {"mark": {"type": "rule", "color": "#6f9fe0", "strokeWidth": 1.8}, "encoding": {"x": {"datum": 7.9359, "type": "quantitative", "axis": null}, "x2": {"datum": 8.0153}, "y": {"datum": 96.2, "type": "quantitative", "axis": null}}},
      {"mark": {"type": "rule", "color": "#6f9fe0", "strokeWidth": 1.8}, "encoding": {"x": {"datum": 7.9604, "type": "quantitative", "axis": null}, "x2": {"datum": 8.0885}, "y": {"datum": 82, "type": "quantitative", "axis": null}}},
      {"mark": {"type": "rule", "color": "#6f9fe0", "strokeWidth": 1.8}, "encoding": {"x": {"datum": 7.9573, "type": "quantitative", "axis": null}, "x2": {"datum": 8.0945}, "y": {"datum": 53, "type": "quantitative", "axis": null}}},
      {"mark": {"type": "text", "text": "1", "font": "Lato", "fontSize": 15, "color": "#222"}, "encoding": {"x": {"datum": 8.0305, "type": "quantitative", "axis": null}, "y": {"datum": 96.2, "type": "quantitative", "axis": null}}},
      {"mark": {"type": "text", "text": "2", "font": "Lato", "fontSize": 15, "color": "#222"}, "encoding": {"x": {"datum": 8.1091, "type": "quantitative", "axis": null}, "y": {"datum": 82, "type": "quantitative", "axis": null}}},
      {"mark": {"type": "text", "text": "3", "font": "Lato", "fontSize": 15, "color": "#222"}, "encoding": {"x": {"datum": 8.1213, "type": "quantitative", "axis": null}, "y": {"datum": 53, "type": "quantitative", "axis": null}}},
      {"mark": {"type": "rect", "fill": "#d9e2f3"}, "encoding": {"x": {"datum": 7.633, "type": "quantitative", "axis": null}, "x2": {"datum": 7.7793}, "y": {"datum": 150.7, "type": "quantitative", "axis": null}, "y2": {"datum": 183}}},
      {"mark": {"type": "text", "text": "MS2", "font": "Lato", "fontWeight": "bold", "fontSize": 15, "color": "#111"}, "encoding": {"x": {"datum": 7.7062, "type": "quantitative", "axis": null}, "y": {"datum": 166.9, "type": "quantitative", "axis": null}}}
    ]
  }
  ]
}
]
}
